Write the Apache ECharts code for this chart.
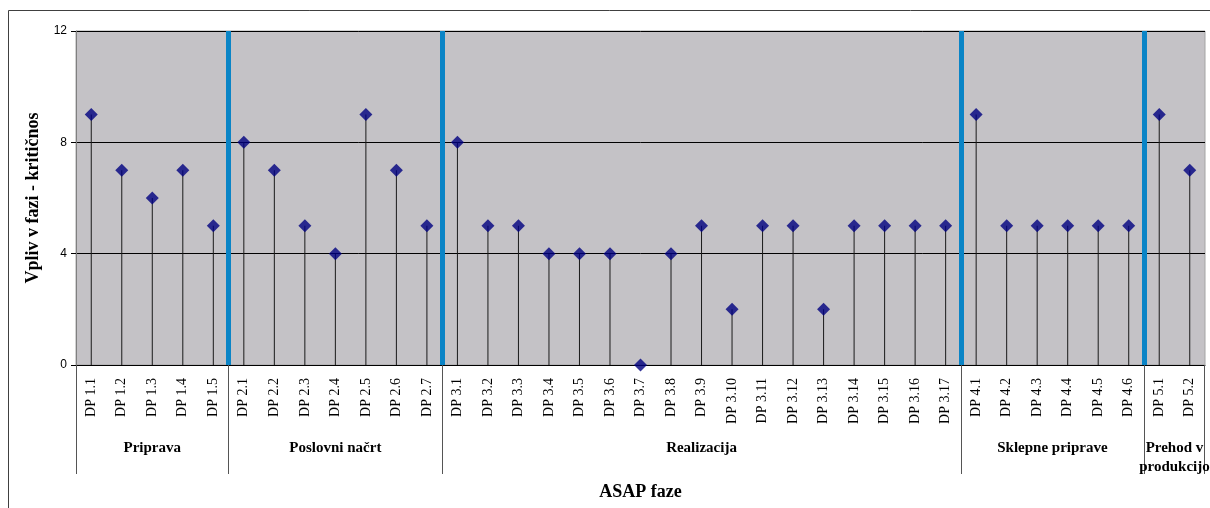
<!DOCTYPE html>
<html>
<head>
<meta charset="utf-8">
<script src="https://cdn.jsdelivr.net/npm/echarts@6/dist/echarts.min.js"></script>
<style>
  html, body { margin: 0; padding: 0; background: #fff; }
  #chart { width: 1210px; height: 508px; }
</style>
</head>
<body>
<div id="chart"></div>
<script>
// faze / kategorije
var categories = [
    'DP 1.1', 'DP 1.2', 'DP 1.3', 'DP 1.4', 'DP 1.5',
    'DP 2.1', 'DP 2.2', 'DP 2.3', 'DP 2.4', 'DP 2.5', 'DP 2.6', 'DP 2.7',
    'DP 3.1', 'DP 3.2', 'DP 3.3', 'DP 3.4', 'DP 3.5', 'DP 3.6', 'DP 3.7', 'DP 3.8', 'DP 3.9',
    'DP 3.10', 'DP 3.11', 'DP 3.12', 'DP 3.13', 'DP 3.14', 'DP 3.15', 'DP 3.16', 'DP 3.17',
    'DP 4.1', 'DP 4.2', 'DP 4.3', 'DP 4.4', 'DP 4.5', 'DP 4.6',
    'DP 5.1', 'DP 5.2'
];
var values = [
    9, 7, 6, 7, 5,
    8, 7, 5, 4, 9, 7, 5,
    8, 5, 5, 4, 4, 4, 0, 4, 5, 2, 5, 5, 2, 5, 5, 5, 5,
    9, 5, 5, 5, 5, 5,
    9, 7
];
var groupNames = ['Priprava', 'Poslovni načrt', 'Realizacija', 'Sklepne priprave', 'Prehod v\nprodukcijo'];
var groupStart = [0, 5, 12, 29, 35];
var groupSize = [5, 7, 17, 6, 2];
var yTicks = [0, 4, 8, 12];

var chart = echarts.init(document.getElementById('chart'));

// meje in sredine faz na skali 0..37
var groupBounds = groupStart.concat([categories.length - 0.02]); // zadnja meja malo noter, sicer se ne izriše
var groupMid = groupStart.map(function (s, i) { return s + groupSize[i] / 2; });
// modre ločnice med fazami
var separators = [];
groupStart.forEach(function (s) {
    if (s > 0) separators.push({ xAxis: s });
});

var option = {
    animation: false,
    graphic: [{
        type: 'rect',
        shape: { x: 8.5, y: 10.5, width: 1400, height: 600 },
        style: { fill: 'none', stroke: '#404040', lineWidth: 1 },
        silent: true
    }],
    grid: {
        left: 76, right: 5, top: 31, bottom: 143,
        outerBoundsMode: 'none',
        containLabel: false,
        show: true,
        backgroundColor: '#C4C2C6',
        borderColor: '#A4A4A4',
        borderWidth: 1
    },
    xAxis: [
        {
            type: 'category',
            data: categories,
            axisLine: { lineStyle: { color: '#000', width: 1 } },
            axisTick: { length: 60, lineStyle: { color: '#000' } },
            axisLabel: {
                rotate: 90,
                interval: 0,
                margin: 13,
                color: '#000',
                fontFamily: 'Liberation Serif',
                fontSize: 14
            },
            splitLine: { show: false }
        },
        {
            type: 'value',
            min: 0,
            max: categories.length,
            position: 'bottom',
            axisLine: { show: false },
            axisTick: {
                show: true,
                length: 109,
                customValues: groupBounds,
                lineStyle: { color: '#555' }
            },
            axisLabel: {
                show: true,
                margin: 74,
                customValues: groupMid,
                showMinLabel: true,
                showMaxLabel: true,
                formatter: function (val) {
                    var i = groupMid.indexOf(val);
                    return i < 0 ? '' : groupNames[i];
                },
                fontFamily: 'Liberation Serif',
                fontWeight: 'bold',
                fontSize: 15,
                color: '#000',
                lineHeight: 19
            },
            splitLine: { show: false },
            name: 'ASAP faze',
            nameLocation: 'middle',
            nameGap: 118,
            nameTextStyle: { fontFamily: 'Liberation Serif', fontWeight: 'bold', fontSize: 18, color: '#000' }
        }
    ],
    yAxis: {
        type: 'value',
        min: yTicks[0],
        max: yTicks[yTicks.length - 1],
        interval: 4,
        axisLine: { show: true, lineStyle: { color: '#808080' } },
        axisTick: { show: true, length: 5, lineStyle: { color: '#000' } },
        axisLabel: { color: '#000', fontFamily: 'Liberation Sans', fontSize: 12, margin: 9 },
        splitLine: { show: true, lineStyle: { color: '#000', width: 1 } },
        name: 'Vpliv v fazi - kritičnos',
        nameLocation: 'middle',
        nameGap: 33,
        nameTextStyle: { fontFamily: 'Liberation Serif', fontWeight: 'bold', fontSize: 18, color: '#000' }
    },
    series: [
        {
            name: 'stem',
            type: 'bar',
            xAxisIndex: 0,
            barWidth: 1,
            data: values,
            itemStyle: { color: '#1A1A1A' },
            z: 3
        },
        {
            name: 'Vpliv',
            type: 'scatter',
            xAxisIndex: 0,
            symbol: 'diamond',
            symbolSize: 13,
            data: values,
            itemStyle: { color: '#000080' },
            z: 5
        },
        {
            name: 'faze',
            type: 'line',
            xAxisIndex: 1,
            data: [],
            markLine: {
                silent: true,
                symbol: 'none',
                label: { show: false },
                lineStyle: { color: '#0A84C6', width: 5, type: 'solid' },
                data: separators
            },
            z: 4
        }
    ]
};
chart.setOption(option);
</script>
</body>
</html>
